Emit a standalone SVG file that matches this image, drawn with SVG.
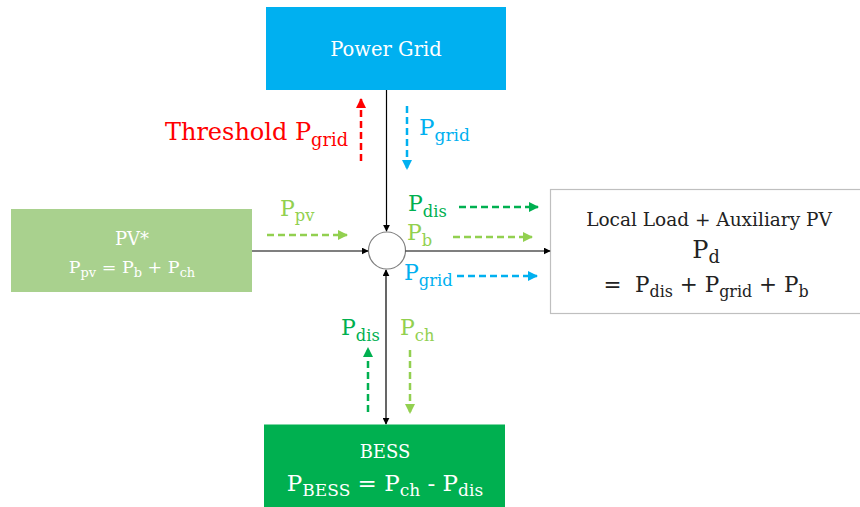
<svg xmlns="http://www.w3.org/2000/svg" width="860" height="507" viewBox="0 0 860 507">
<defs>
<style>
text{font-family:"DejaVu Serif","Liberation Serif",serif;}
.w{fill:#ffffff;}
.k{fill:#222222;}
.c{text-anchor:middle;}
.line{stroke:#000;stroke-width:1.2;fill:none;}
.d{stroke-width:2.5;stroke-dasharray:7 4;fill:none;}
.sub{font-size:0.74em;}
</style>
<marker id="ak" viewBox="0 0 10 10" refX="9" refY="5" markerWidth="7" markerHeight="7" markerUnits="userSpaceOnUse" orient="auto-start-reverse"><path d="M0,0 L10,5 L0,10 z" fill="#000"/></marker>
<marker id="ar" viewBox="0 0 10 10" refX="9" refY="5" markerWidth="4" markerHeight="4" orient="auto"><path d="M0,0 L10,5 L0,10 z" fill="#FF0000"/></marker>
<marker id="ab" viewBox="0 0 10 10" refX="9" refY="5" markerWidth="4" markerHeight="4" orient="auto"><path d="M0,0 L10,5 L0,10 z" fill="#00B0F0"/></marker>
<marker id="ag" viewBox="0 0 10 10" refX="9" refY="5" markerWidth="4" markerHeight="4" orient="auto"><path d="M0,0 L10,5 L0,10 z" fill="#00B050"/></marker>
<marker id="al" viewBox="0 0 10 10" refX="9" refY="5" markerWidth="4" markerHeight="4" orient="auto"><path d="M0,0 L10,5 L0,10 z" fill="#92D050"/></marker>
</defs>
<rect width="860" height="507" fill="#ffffff"/>

<g id="grid">
<rect x="266" y="7" width="240" height="83" fill="#00B0F0"/>
<text class="w c" x="386" y="56" font-size="19.5">Power Grid</text>
</g>

<g id="pv">
<rect x="11" y="209" width="241" height="83" fill="#A9D18E"/>
<text class="w c" x="132" y="245" font-size="18">PV*</text>
<text class="w c" x="132" y="273" font-size="17.5">P<tspan class="sub" dy="4">pv</tspan><tspan dy="-4"> = P</tspan><tspan class="sub" dy="4">b</tspan><tspan dy="-4"> + P</tspan><tspan class="sub" dy="4">ch</tspan></text>
</g>

<g id="load">
<rect x="550.5" y="189.5" width="312" height="124" fill="#ffffff" stroke="#BFBFBF" stroke-width="1.2"/>
<text class="k c" x="709" y="226" font-size="18.5">Local Load + Auxiliary PV</text>
<text class="k c" x="706" y="258" font-size="24">P<tspan class="sub" dy="5">d</tspan></text>
<text class="k c" x="706" y="292" font-size="21.5" xml:space="preserve">=  P<tspan class="sub" dy="5">dis</tspan><tspan dy="-5"> + P</tspan><tspan class="sub" dy="5">grid</tspan><tspan dy="-5"> + P</tspan><tspan class="sub" dy="5">b</tspan></text>
</g>

<g id="bess">
<rect x="264" y="424.5" width="241" height="83" fill="#00B050"/>
<text class="w c" x="385" y="458" font-size="18">BESS</text>
<text class="w c" x="385" y="491" font-size="23">P<tspan class="sub" dy="5">BESS</tspan><tspan dy="-5"> = P</tspan><tspan class="sub" dy="5">ch</tspan><tspan dy="-5"> - P</tspan><tspan class="sub" dy="5">dis</tspan></text>
</g>

<g id="node">
<circle cx="387" cy="250.5" r="18.5" fill="#ffffff" stroke="#808080" stroke-width="1.2"/>
</g>

<g id="connectors">
<line class="line" x1="386.5" y1="90" x2="386.5" y2="231" marker-end="url(#ak)"/>
<line class="line" x1="252" y1="251" x2="368" y2="251" marker-end="url(#ak)"/>
<line class="line" x1="405.5" y1="251" x2="550" y2="251" marker-end="url(#ak)"/>
<line class="line" x1="386" y1="270" x2="386" y2="424" marker-start="url(#ak)" marker-end="url(#ak)"/>

<line class="d" stroke="#FF0000" x1="361" y1="161" x2="361" y2="99" marker-end="url(#ar)"/>
<line class="d" stroke="#00B0F0" x1="407" y1="106" x2="407" y2="169" marker-end="url(#ab)"/>
<line class="d" stroke="#92D050" x1="267" y1="235" x2="347" y2="235" marker-end="url(#al)"/>
<line class="d" stroke="#00B050" x1="459" y1="207" x2="538" y2="207" marker-end="url(#ag)"/>
<line class="d" stroke="#92D050" x1="453" y1="237" x2="532" y2="237" marker-end="url(#al)"/>
<line class="d" stroke="#00B0F0" x1="457" y1="276" x2="537" y2="276" marker-end="url(#ab)"/>
<line class="d" stroke="#00B050" x1="368" y1="412" x2="368" y2="348" marker-end="url(#ag)"/>
<line class="d" stroke="#92D050" x1="410" y1="350" x2="410" y2="413" marker-end="url(#al)"/>
</g>

<g id="labels">
<text x="348" y="140" font-size="24" fill="#FF0000" text-anchor="end">Threshold P<tspan class="sub" dy="6">grid</tspan></text>
<text x="419" y="135" font-size="23" fill="#00B0F0">P<tspan class="sub" dy="6">grid</tspan></text>
<text x="280" y="216" font-size="22" fill="#92D050">P<tspan class="sub" dy="5">pv</tspan></text>
<text x="408" y="211" font-size="22" fill="#00B050">P<tspan class="sub" dy="6">dis</tspan></text>
<text x="407" y="240" font-size="22" fill="#92D050">P<tspan class="sub" dy="6">b</tspan></text>
<text x="404" y="280" font-size="22" fill="#00B0F0">P<tspan class="sub" dy="6">grid</tspan></text>
<text x="341" y="335" font-size="22" fill="#00B050">P<tspan class="sub" dy="6">dis</tspan></text>
<text x="400" y="335" font-size="22" fill="#92D050">P<tspan class="sub" dy="6">ch</tspan></text>
</g>
</svg>
